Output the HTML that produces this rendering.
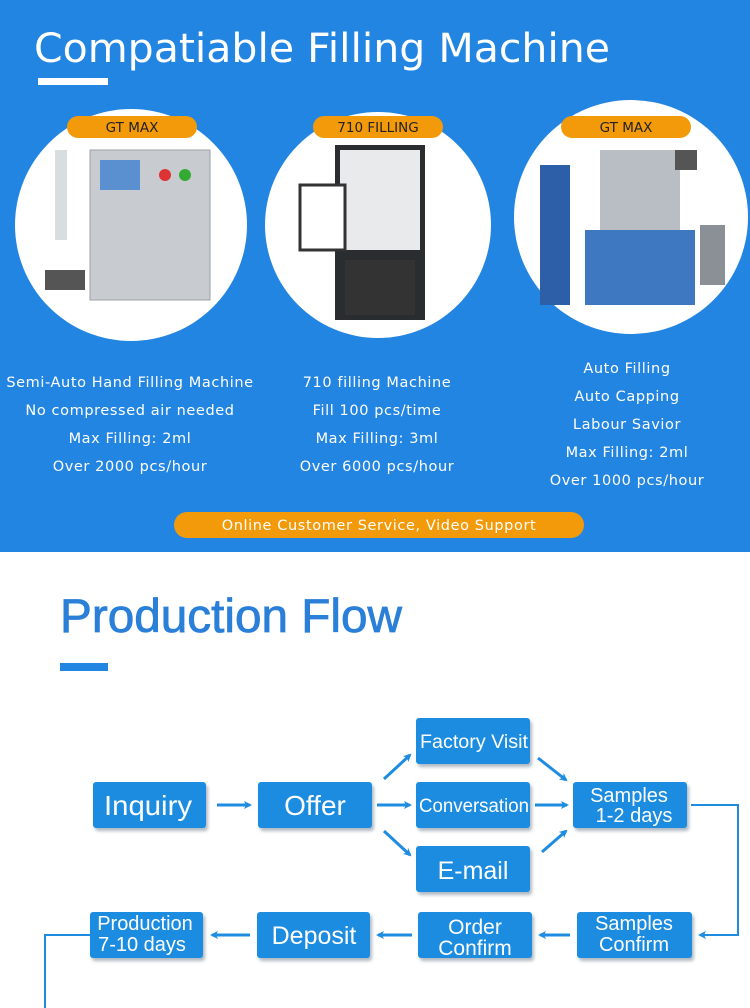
<!DOCTYPE html>
<html><head><meta charset="utf-8"><style>
html,body{margin:0;padding:0;background:#fff;width:750px;height:1008px;overflow:hidden}
svg{display:block}
.t{font-family:"DejaVu Sans","Liberation Sans",sans-serif;fill:#fff}
.b{font-family:"Liberation Sans",sans-serif;fill:#fff}
</style></head><body>
<svg width="750" height="1008" viewBox="0 0 750 1008" xmlns="http://www.w3.org/2000/svg">
<defs>
<marker id="ah" markerWidth="8" markerHeight="8" refX="6" refY="4" orient="auto" markerUnits="userSpaceOnUse"><path d="M0,0 L8,4 L0,8 L2,4 Z" fill="#1e8ce0"/></marker>
<filter id="sh" x="-10%" y="-10%" width="130%" height="140%"><feDropShadow dx="2" dy="3" stdDeviation="1.5" flood-color="#7a8a9a" flood-opacity="0.6"/></filter>
</defs>
<rect x="0" y="0" width="750" height="552" fill="#2385e2"/>
<text x="34" y="62" class="t" font-size="40" font-family="Liberation Sans" textLength="576" lengthAdjust="spacingAndGlyphs">Compatiable Filling Machine</text>
<rect x="38" y="78" width="70" height="7" fill="#fff"/>
<circle cx="131" cy="225" r="116" fill="#fff"/>
<circle cx="378" cy="225" r="113" fill="#fff"/>
<circle cx="631" cy="217" r="117" fill="#fff"/>
<rect x="90" y="150" width="120" height="150" fill="#c8ccd0" stroke="#9aa0a6"/>
<rect x="100" y="160" width="40" height="30" fill="#5a8fd0"/>
<circle cx="165" cy="175" r="6" fill="#d33"/><circle cx="185" cy="175" r="6" fill="#3a3"/>
<rect x="55" y="150" width="12" height="90" fill="#d8dde0"/>
<rect x="45" y="270" width="40" height="20" fill="#555"/>
<rect x="335" y="145" width="90" height="175" fill="#2a2d30"/>
<rect x="340" y="150" width="80" height="100" fill="#e8eaec"/>
<rect x="300" y="185" width="45" height="65" fill="#fff" stroke="#333" stroke-width="3"/>
<rect x="345" y="260" width="70" height="55" fill="#333"/>
<rect x="585" y="230" width="110" height="75" fill="#3d78c0"/>
<rect x="600" y="150" width="80" height="80" fill="#b8bec4"/>
<rect x="540" y="165" width="30" height="140" fill="#2c5fa8"/>
<rect x="675" y="150" width="22" height="20" fill="#555"/>
<rect x="700" y="225" width="25" height="60" fill="#8a9096"/>
<rect x="67" y="116" width="130" height="22" rx="11" fill="#f39a0a"/>
<text x="132" y="132" text-anchor="middle" font-family="DejaVu Sans" font-size="13.5" fill="#222">GT MAX</text>
<rect x="313" y="116" width="130" height="22" rx="11" fill="#f39a0a"/>
<text x="378" y="132" text-anchor="middle" font-family="DejaVu Sans" font-size="13.5" fill="#222">710 FILLING</text>
<rect x="561" y="116" width="130" height="22" rx="11" fill="#f39a0a"/>
<text x="626" y="132" text-anchor="middle" font-family="DejaVu Sans" font-size="13.5" fill="#222">GT MAX</text>
<g class="t" font-size="14.5" text-anchor="middle" letter-spacing="0.6">
<text x="130" y="387">Semi-Auto Hand Filling Machine</text>
<text x="130" y="415">No compressed air needed</text>
<text x="130" y="443">Max Filling: 2ml</text>
<text x="130" y="471">Over 2000 pcs/hour</text>
<text x="377" y="387">710 filling Machine</text>
<text x="377" y="415">Fill 100 pcs/time</text>
<text x="377" y="443">Max Filling: 3ml</text>
<text x="377" y="471">Over 6000 pcs/hour</text>
<text x="627" y="373">Auto Filling</text>
<text x="627" y="401">Auto Capping</text>
<text x="627" y="429">Labour Savior</text>
<text x="627" y="457">Max Filling: 2ml</text>
<text x="627" y="485">Over 1000 pcs/hour</text>
</g>
<rect x="174" y="512" width="410" height="26" rx="13" fill="#f39a0a"/>
<text x="379" y="530" text-anchor="middle" class="t" font-size="14.5" letter-spacing="0.6">Online Customer Service, Video Support</text>
<text x="60" y="632" font-family="Liberation Sans" font-size="47" fill="#2a7fd8" stroke="#2a7fd8" stroke-width="0.8" textLength="342" lengthAdjust="spacingAndGlyphs">Production Flow</text>
<rect x="60" y="663" width="48" height="8" fill="#2385e2"/>
<g fill="#1e8ce0" filter="url(#sh)">
<rect x="93" y="782" width="113" height="46" rx="3"/>
<rect x="258" y="782" width="114" height="46" rx="3"/>
<rect x="416" y="718" width="114" height="46" rx="3"/>
<rect x="416" y="782" width="114" height="46" rx="3"/>
<rect x="416" y="846" width="114" height="46" rx="3"/>
<rect x="573" y="782" width="114" height="46" rx="3"/>
<rect x="577" y="912" width="115" height="46" rx="3"/>
<rect x="418" y="912" width="114" height="46" rx="3"/>
<rect x="257" y="912" width="113" height="46" rx="3"/>
<rect x="90" y="912" width="113" height="46" rx="3"/>
</g>
<g class="b" text-anchor="middle">
<text x="148" y="815" font-size="28" textLength="88" lengthAdjust="spacingAndGlyphs">Inquiry</text>
<text x="315" y="815" font-size="28">Offer</text>
<text x="474" y="748" font-size="19" textLength="108" lengthAdjust="spacingAndGlyphs">Factory Visit</text>
<text x="474" y="812" font-size="19" textLength="110" lengthAdjust="spacingAndGlyphs">Conversation</text>
<text x="473" y="879" font-size="25">E-mail</text>
<text x="629" y="802" font-size="20">Samples</text>
<text x="634" y="822" font-size="20">1-2 days</text>
<text x="634" y="930" font-size="20">Samples</text>
<text x="634" y="951" font-size="20">Confirm</text>
<text x="475" y="934" font-size="21">Order</text>
<text x="475" y="955" font-size="21">Confirm</text>
<text x="314" y="944" font-size="25">Deposit</text>
<text x="145" y="930" font-size="20">Production</text>
<text x="142" y="951" font-size="20">7-10 days</text>
</g>
<g stroke="#1e8ce0" stroke-width="3" fill="none" marker-end="url(#ah)">
<line x1="217" y1="805" x2="250" y2="805"/>
<line x1="377" y1="805" x2="410" y2="805"/>
<line x1="384" y1="779" x2="410" y2="755"/>
<line x1="384" y1="831" x2="410" y2="855"/>
<line x1="535" y1="805" x2="567" y2="805"/>
<line x1="538" y1="758" x2="566" y2="780"/>
<line x1="542" y1="852" x2="566" y2="831"/>
<line x1="570" y1="935" x2="540" y2="935"/>
<line x1="412" y1="935" x2="378" y2="935"/>
<line x1="250" y1="935" x2="212" y2="935"/>
</g>
<polyline points="691,805 738,805 738,935 700,935" stroke="#1e8ce0" stroke-width="2" fill="none" marker-end="url(#ah)"/>
<polyline points="90,935 45,935 45,1008" stroke="#1e8ce0" stroke-width="2" fill="none"/>
</svg>
</body></html>
